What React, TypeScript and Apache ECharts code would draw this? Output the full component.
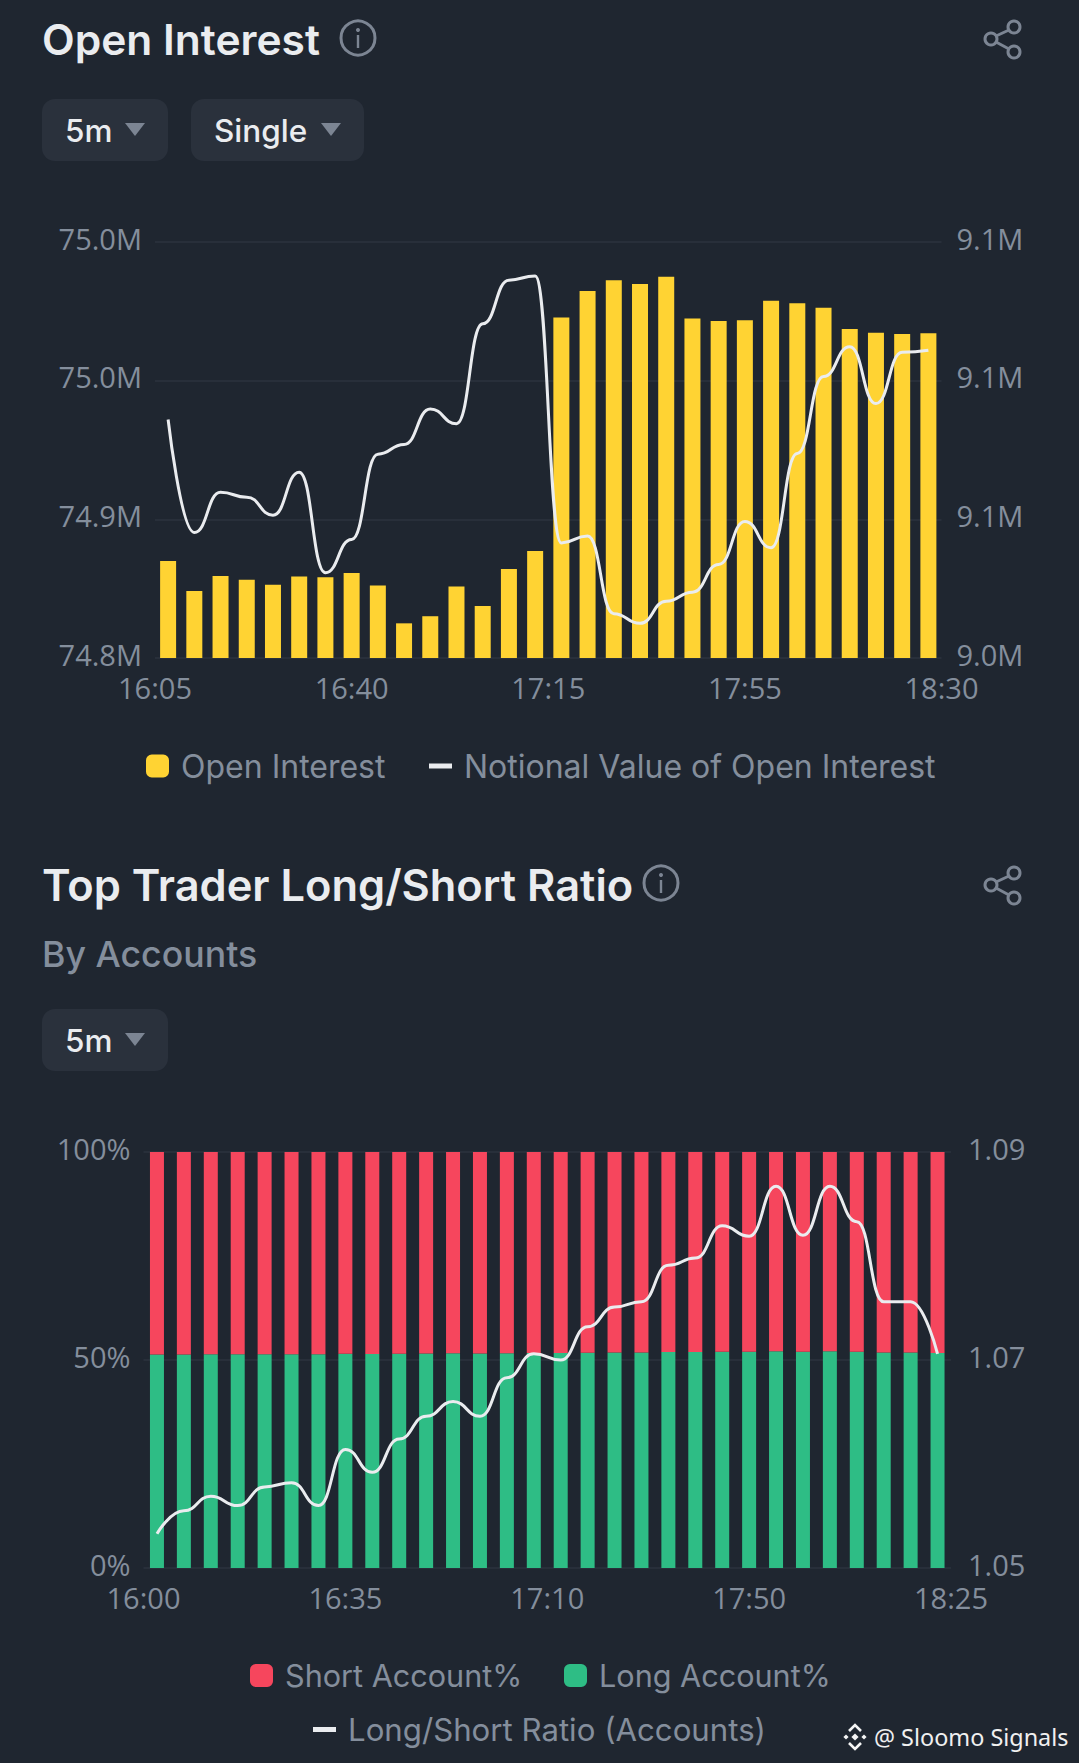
import React, { useEffect, useRef } from "react";
import * as echarts from "echarts";

const oiTimes = ["16:05","16:10","16:15","16:20","16:25","16:30","16:35","16:40","16:45","16:50","16:55","17:00","17:05","17:10","17:15","17:20","17:25","17:30","17:35","17:40","17:45","17:50","17:55","18:00","18:05","18:10","18:15","18:20","18:25","18:30"];
const oiTickLabels = ["16:05","16:40","17:15","17:55","18:30"];
const openInterest = [74856000,74838700,74847300,74845200,74842300,74847000,74846600,74849100,74841800,74820000,74824100,74841200,74830000,74851400,74861800,74996500,75011700,75017900,75015700,75020000,74995900,74994400,74994800,75006100,75004600,75002100,74989800,74987600,74986900,74987300];
const notional = [9074400,9058100,9063900,9063200,9060600,9066800,9052300,9057100,9069400,9070800,9075900,9073800,9088200,9094500,9095100,9056600,9057600,9046400,9045000,9048200,9049500,9053500,9059700,9055900,9069500,9080600,9084900,9076700,9084100,9084400];

const lsTimes = ["16:00","16:05","16:10","16:15","16:20","16:25","16:30","16:35","16:40","16:45","16:50","16:55","17:00","17:05","17:10","17:15","17:20","17:25","17:30","17:35","17:40","17:45","17:50","17:55","18:00","18:05","18:10","18:15","18:20","18:25"];
const lsTickLabels = ["16:00","16:35","17:10","17:50","18:25"];
const longPct = [51.30,51.35,51.38,51.36,51.40,51.41,51.36,51.49,51.44,51.51,51.56,51.60,51.56,51.65,51.70,51.69,51.76,51.81,51.82,51.90,51.92,51.99,51.97,52.08,51.97,52.08,52.00,51.82,51.82,51.70];
const shortPct = [48.70,48.65,48.62,48.64,48.60,48.59,48.64,48.51,48.56,48.49,48.44,48.40,48.44,48.35,48.30,48.31,48.24,48.19,48.18,48.10,48.08,48.01,48.03,47.92,48.03,47.92,48.00,48.18,48.18,48.30];
const lsRatio = [1.0533,1.0555,1.0569,1.0560,1.0578,1.0582,1.0560,1.0614,1.0592,1.0624,1.0646,1.0660,1.0646,1.0683,1.0706,1.0700,1.0732,1.0751,1.0756,1.0791,1.0798,1.0829,1.0819,1.0867,1.0820,1.0867,1.0833,1.0756,1.0756,1.0706];
const ratioTicks = [1.05,1.07,1.09];

const BG = "#1F2630";
const BTN = "#2A313C";
const GRID = "#2C333E";
const MUTED = "#848E9C";
const WHITE = "#EAECEF";
const YELLOW = "#FFD333";
const RED = "#F6465D";
const GREEN = "#2EBD85";
const FONT = "Inter";
const TICK_FONT = "Open Sans";

function label(text: string, x: number, y: number, size: number, weight: number, fill: string, family: string = FONT) {
  return { type: "text", x, y, silent: true, style: { text, fill, fontSize: size, fontWeight: weight, fontFamily: family, verticalAlign: "middle", align: "left" } };
}
function infoIcon(cx: number, cy: number) {
  return [
    { type: "circle", shape: { cx, cy, r: 17 }, style: { fill: "none", stroke: "#7C8593", lineWidth: 3 } },
    { type: "circle", shape: { cx, cy: cy - 8, r: 2 }, style: { fill: "#7C8593" } },
    { type: "rect", shape: { x: cx - 1.2, y: cy - 3, width: 2.4, height: 13 }, style: { fill: "#7C8593" } },
  ];
}
function shareIcon(top: number) {
  const s = { fill: "none", stroke: "#7C8593", lineWidth: 3 };
  return [
    { type: "circle", shape: { cx: 1014, cy: top + 6, r: 6 }, style: s },
    { type: "circle", shape: { cx: 991, cy: top + 18, r: 6 }, style: s },
    { type: "circle", shape: { cx: 1014, cy: top + 31, r: 6 }, style: s },
    { type: "line", shape: { x1: 996, y1: top + 15, x2: 1009, y2: top + 9 }, style: s },
    { type: "line", shape: { x1: 996, y1: top + 21, x2: 1009, y2: top + 28 }, style: s },
  ];
}
function dropdown(x: number, y: number, w: number, text: string, triX: number) {
  return [
    { type: "rect", shape: { x, y, width: w, height: 62, r: 13 }, style: { fill: BTN } },
    label(text, x + 23, y + 31, 31.5, 500, WHITE),
    { type: "polygon", shape: { points: [[triX, y + 24], [triX + 20, y + 24], [triX + 10, y + 37]] }, style: { fill: "#7C8593" } },
  ];
}
function diamond(cx: number, cy: number, r: number) {
  return { type: "polygon", shape: { points: [[cx, cy - r], [cx + r, cy], [cx, cy + r], [cx - r, cy]] }, style: { fill: "#F5F5F5" } };
}
function watermark() {
  const cx = 855, cy = 1737;
  const st = { fill: "none", stroke: "#F5F5F5", lineWidth: 2.6 };
  return [
    diamond(cx, cy, 3.6),
    diamond(cx - 9, cy, 2.6),
    diamond(cx + 9, cy, 2.6),
    { type: "polyline", shape: { points: [[cx - 6, cy - 6], [cx, cy - 12], [cx + 6, cy - 6]] }, style: st },
    { type: "polyline", shape: { points: [[cx - 6, cy + 6], [cx, cy + 12], [cx + 6, cy + 6]] }, style: st },
    label("@ Sloomo Signals", 874, 1737, 23.4, 400, "#F0F0F0", "Noto Sans"),
  ];
}

const tickLabel = { color: MUTED, fontSize: 29, fontFamily: TICK_FONT };
const yLabel = { ...tickLabel, verticalAlign: "bottom", lineHeight: 8 };

function hiddenCat(data: string[], gridIndex: number) {
  return { type: "category", data, gridIndex, boundaryGap: true, axisLine: { show: false }, axisTick: { show: false }, axisLabel: { show: false }, splitLine: { show: false } };
}
function labelCat(data: string[], gridIndex: number) {
  return { type: "category", data, gridIndex, position: "bottom", boundaryGap: false, axisLine: { show: false }, axisTick: { show: false }, splitLine: { show: false }, axisLabel: { ...tickLabel, margin: 15, interval: 0 } };
}
function legendBox(left: number, top: number, name: string, square: boolean, size: number) {
  return {
    left, top, padding: 0, selectedMode: false,
    itemWidth: 23, itemHeight: square ? 23 : 5,
    data: [{ name, icon: square ? "roundRect" : "rect" }],
    textStyle: { color: MUTED, fontSize: size, fontFamily: FONT, padding: [0, 0, 0, 7] },
  };
}

export default function App() {
  const ref = useRef<HTMLDivElement>(null);
  useEffect(() => {
    document.body.style.margin = "0";
    document.body.style.background = BG;
    const chart = echarts.init(ref.current!, undefined, { renderer: "svg" });
    chart.setOption({
      animation: false,
      backgroundColor: BG,
      grid: [
        { left: 155, top: 242, width: 786.5, height: 416 },
        { left: 143.5, top: 1152, width: 807.5, height: 416 },
      ],
      xAxis: [hiddenCat(oiTimes, 0), labelCat(oiTickLabels, 0), hiddenCat(lsTimes, 1), labelCat(lsTickLabels, 1)],
      yAxis: [
        {
          type: "value", gridIndex: 0, position: "left", min: 74800000, max: 75040000, interval: 80000,
          axisLine: { show: false }, axisTick: { show: false },
          splitLine: { lineStyle: { color: GRID, width: 1.5 } },
          axisLabel: { ...yLabel, margin: 13, formatter: (v: number) => (v / 1e6).toFixed(1) + "M" },
        },
        {
          type: "value", gridIndex: 0, position: "right", min: 9040000, max: 9100000, interval: 20000,
          axisLine: { show: false }, axisTick: { show: false }, splitLine: { show: false },
          axisLabel: { ...yLabel, margin: 15, formatter: (v: number) => (v / 1e6).toFixed(1) + "M" },
        },
        {
          type: "value", gridIndex: 1, position: "left", min: 0, max: 100, interval: 50,
          axisLine: { show: false }, axisTick: { show: false },
          splitLine: { lineStyle: { color: GRID, width: 1.5 } },
          axisLabel: { ...yLabel, margin: 13, formatter: (v: number) => v + "%" },
        },
        {
          type: "value", gridIndex: 1, position: "right", min: 1.05, max: 1.09,
          axisLine: { show: false }, axisTick: { show: false }, splitLine: { show: false },
          axisLabel: { ...yLabel, margin: 17, customValues: ratioTicks, formatter: (v: number) => v.toFixed(2) },
        },
      ],
      legend: [
        legendBox(146, 750, "Open Interest", true, 32),
        legendBox(429, 750, "Notional Value of Open Interest", false, 32),
        legendBox(250, 1660, "Short Account%", true, 30.6),
        legendBox(564, 1660, "Long Account%", true, 30.6),
        legendBox(313, 1714, "Long/Short Ratio (Accounts)", false, 31.2),
      ],
      series: [
        { name: "Open Interest", type: "bar", xAxisIndex: 0, yAxisIndex: 0, data: openInterest, barWidth: 16, itemStyle: { color: YELLOW } },
        {
          name: "Notional Value of Open Interest", type: "line", xAxisIndex: 0, yAxisIndex: 1, data: notional,
          smooth: true, smoothMonotone: "x", showSymbol: false, lineStyle: { color: WHITE, width: 3 }, itemStyle: { color: WHITE },
        },
        { name: "Long Account%", type: "bar", stack: "acc", xAxisIndex: 2, yAxisIndex: 2, data: longPct, barWidth: 14, itemStyle: { color: GREEN } },
        { name: "Short Account%", type: "bar", stack: "acc", xAxisIndex: 2, yAxisIndex: 2, data: shortPct, barWidth: 14, itemStyle: { color: RED } },
        {
          name: "Long/Short Ratio (Accounts)", type: "line", xAxisIndex: 2, yAxisIndex: 3, data: lsRatio,
          smooth: true, smoothMonotone: "x", showSymbol: false, lineStyle: { color: WHITE, width: 3 }, itemStyle: { color: WHITE },
        },
      ],
      graphic: [
        label("Open Interest", 42, 39, 42.5, 600, WHITE),
        ...infoIcon(358, 38),
        ...shareIcon(21),
        ...dropdown(42, 99, 126, "5m", 125),
        ...dropdown(191, 99, 173, "Single", 321),
        label("Top Trader Long/Short Ratio", 42, 885, 43.4, 600, WHITE),
        ...infoIcon(661, 883),
        ...shareIcon(867),
        label("By Accounts", 42, 954, 35.7, 500, MUTED),
        ...dropdown(42, 1009, 126, "5m", 125),
        ...watermark(),
      ],
    });
    return () => chart.dispose();
  }, []);
  return <div ref={ref} style={{ width: 1079, height: 1763 }} />;
}
